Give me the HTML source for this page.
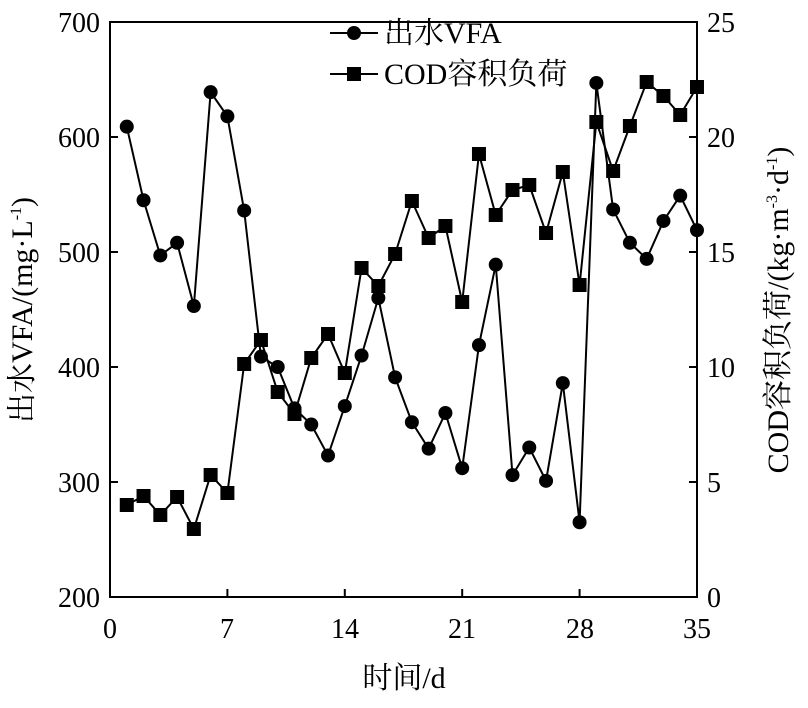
<!DOCTYPE html>
<html><head><meta charset="utf-8"><style>
body{margin:0;background:#fff}
svg text{font-family:"Liberation Serif","Noto Serif CJK SC",serif;fill:#000}
</style></head><body>
<svg id="s" width="808" height="703" xmlns="http://www.w3.org/2000/svg">
<rect x="110" y="22" width="587" height="575" fill="none" stroke="#000" stroke-width="2"/>
<g id="ticks" stroke="#000" stroke-width="2"></g>
<g font-size="28">
<text x="100" y="32" text-anchor="end">700</text>
<text x="100" y="147" text-anchor="end">600</text>
<text x="100" y="262" text-anchor="end">500</text>
<text x="100" y="377" text-anchor="end">400</text>
<text x="100" y="492" text-anchor="end">300</text>
<text x="100" y="607" text-anchor="end">200</text>
<text x="707" y="32">25</text>
<text x="707" y="147">20</text>
<text x="707" y="262">15</text>
<text x="707" y="377">10</text>
<text x="707" y="492">5</text>
<text x="707" y="607">0</text>
<text x="110" y="638" text-anchor="middle">0</text>
<text x="227" y="638" text-anchor="middle">7</text>
<text x="345" y="638" text-anchor="middle">14</text>
<text x="462" y="638" text-anchor="middle">21</text>
<text x="580" y="638" text-anchor="middle">28</text>
<text x="697" y="638" text-anchor="middle">35</text>
</g>
<g font-size="30">
<text x="404" y="688" text-anchor="middle">时间/d</text>
<text transform="translate(32,310) rotate(-90)" text-anchor="middle">出水VFA/(mg·L<tspan font-size="16" dy="-11">-1</tspan><tspan dy="11">)</tspan></text>
<text transform="translate(788,310) rotate(-90)" text-anchor="middle">COD容积负荷/(kg·m<tspan font-size="16" dy="-11">-3</tspan><tspan dy="11">·d</tspan><tspan font-size="16" dy="-11">-1</tspan><tspan dy="11">)</tspan></text>
<text x="384" y="43">出水VFA</text>
<text x="384" y="84">COD容积负荷</text>
</g>
<line x1="330" y1="33" x2="378" y2="33" stroke="#000" stroke-width="2"/>
<circle cx="354" cy="33" r="7"/>
<line x1="330" y1="74" x2="378" y2="74" stroke="#000" stroke-width="2"/>
<rect x="347" y="67" width="14" height="14"/>
<g id="d"></g>
</svg>
<script>
function X(d){return 110+d*16.771;}
var t=document.getElementById('ticks'),h='';
[22,137,252,367,482,597].forEach(function(y){h+='<line x1="110" y1="'+y+'" x2="118" y2="'+y+'"/><line x1="689" y1="'+y+'" x2="697" y2="'+y+'"/>';});
[0,7,14,21,28,35].forEach(function(d){var x=X(d);h+='<line x1="'+x+'" y1="597" x2="'+x+'" y2="589"/>';});
t.innerHTML=h;
var v=[609,545,497,508,453,639,618,536,409,400,364,350,323,366,410,460,391,352,329,360,312,419,489,306,330,301,386,265,647,537,508,494,527,549,519];
var c=[505,496,515,497,529,475,493,364,340,392,414,358,334,373,268,286,254,201,238,226,302,154,215,190,185,233,172,285,122,171,126,82,96,115,87];
var g='',p1='',p2='';
for(var i=0;i<35;i++){var x=X(i+1),y=22+(700-v[i])*1.15;p1+=x+','+y+' ';g+='<circle cx="'+x+'" cy="'+y+'" r="7"/>';
var y2=c[i];p2+=x+','+y2+' ';g+='<rect x="'+(x-7)+'" y="'+(y2-7)+'" width="14" height="14"/>';}
document.getElementById('d').innerHTML='<polyline points="'+p1+'" fill="none" stroke="#000" stroke-width="2"/><polyline points="'+p2+'" fill="none" stroke="#000" stroke-width="2"/>'+g;
</script>
</body></html>
